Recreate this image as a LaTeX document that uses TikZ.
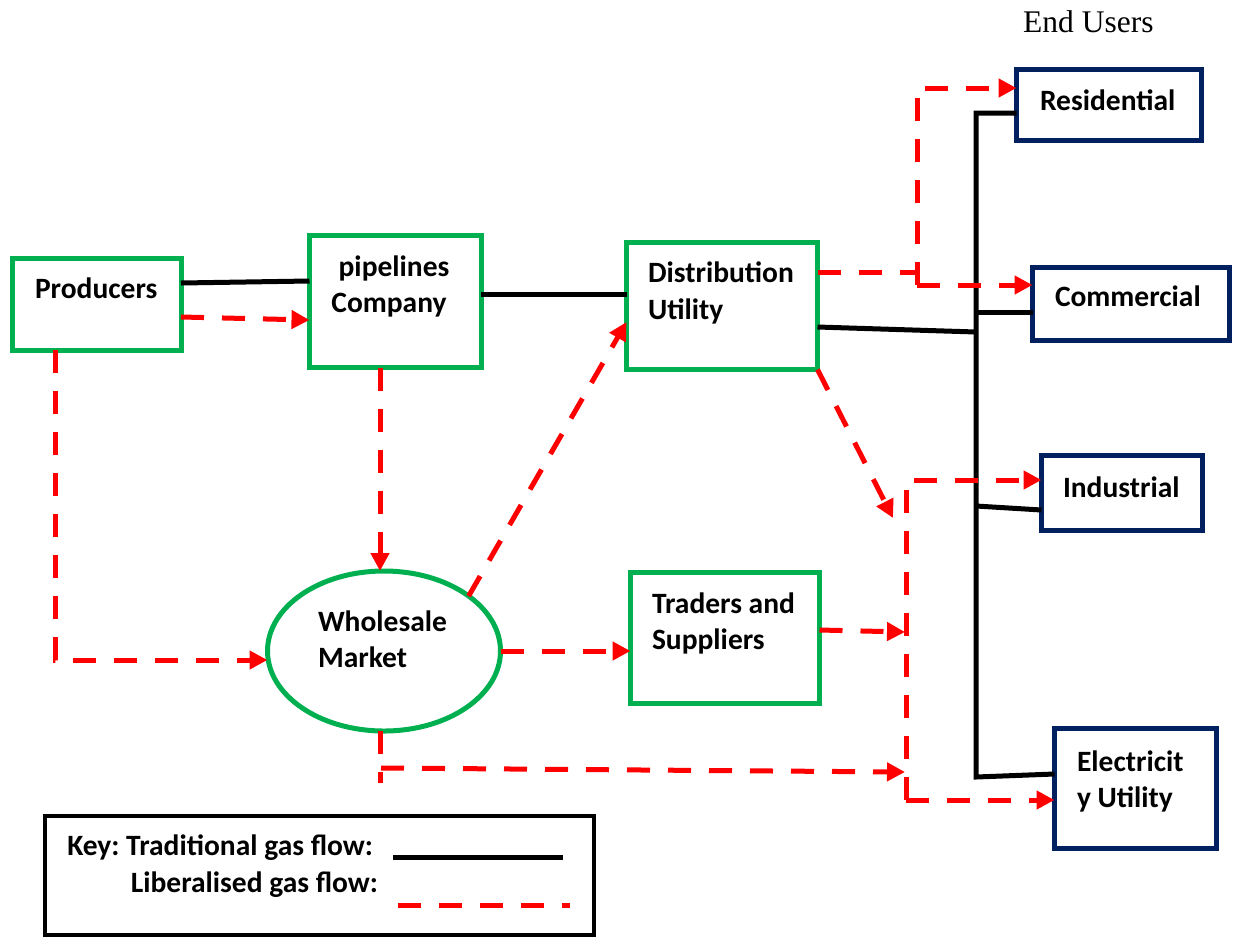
\documentclass[tikz,border=0pt]{standalone}
\usepackage{fontspec}
\setmainfont{Carlito}
\newfontfamily\timesfont{Liberation Serif}
\usetikzlibrary{arrows.meta,shapes.geometric}
\definecolor{boxgreen}{HTML}{00B050}
\definecolor{usernavy}{HTML}{002060}
\definecolor{flowred}{HTML}{FF0000}
\frenchspacing
\begin{document}
\begin{tikzpicture}[x=1pt,y=-1pt,
  gbox/.style={draw=boxgreen,line width=5pt,rectangle,inner sep=0pt,outer sep=0pt},
  ubox/.style={draw=usernavy,line width=5pt,rectangle,inner sep=0pt,outer sep=0pt},
  lbl/.style={font=\fontsize{29.5}{36}\selectfont\bfseries,inner sep=0pt,outer sep=0pt},
  trad/.style={draw=black,line width=5pt},
  lib/.style={draw=flowred,line width=5pt,dash pattern=on 23pt off 18pt},
  libarrow/.style={lib,-{Triangle[length=18pt,width=18pt]}},
]
\useasboundingbox (0,0) rectangle (1233,938);

% ---- supply side (green) ----
\node[gbox,minimum width=168.5pt,minimum height=92pt] (prod) at (96.75,304) {};
\node[gbox,minimum width=171.5pt,minimum height=132pt] (pipe) at (395.25,301.5) {};
\node[gbox,minimum width=191pt,minimum height=127pt] (dist) at (722,306) {};
\node[gbox,minimum width=189pt,minimum height=131pt] (trad) at (725,638) {};
\node[gbox,ellipse,minimum width=233pt,minimum height=160pt] (ell) at (384,651) {};

% ---- end users (navy) ----
\node[ubox,minimum width=185pt,minimum height=71pt] (res) at (1109,105) {};
\node[ubox,minimum width=197pt,minimum height=73pt] (com) at (1131,304) {};
\node[ubox,minimum width=161pt,minimum height=75pt] (ind) at (1122,493) {};
\node[ubox,minimum width=162pt,minimum height=120pt] (elec) at (1135.5,788) {};

% ---- labels ----
\node[lbl,anchor=base west] (prodT) at (35,298) {Producers};
\node[lbl,anchor=base] (pipeT1) at (394,276) {pipelines};
\node[lbl,anchor=base] (pipeT2) at (389,312) {Company};
\node[lbl,anchor=base west] (distT1) at (648,282) {Distribution};
\node[lbl,anchor=base west] (distT2) at (648,319) {Utility};
\node[lbl,anchor=base west] (ellT1) at (318,631) {Wholesale};
\node[lbl,anchor=base west] (ellT2) at (318,667) {Market};
\node[lbl,anchor=base west] (tradT1) at (652,613) {Traders and};
\node[lbl,anchor=base west] (tradT2) at (652,649) {Suppliers};
\node[lbl,anchor=base west] (resT) at (1040,110) {Residential};
\node[lbl,anchor=base west] (comT) at (1055,306) {Commercial};
\node[lbl,anchor=base west] (indT) at (1063,497) {Industrial};
\node[lbl,anchor=base west] (elecT1) at (1077,771) {Electricit};
\node[lbl,anchor=base west] (elecT2) at (1077,807) {y Utility};
\node[font=\timesfont\fontsize{31.5}{36}\selectfont,inner sep=0pt,anchor=base west] (users) at (1023,32) {End Users};

% ---- traditional gas flow (black) ----
\coordinate (trunkTop) at (976,113);
\coordinate (trunkBot) at (976,777);
\coordinate (trunkDist) at (976,332);
\coordinate (trunkCom) at (976,312);
\coordinate (trunkInd) at (976,506);
\draw[trad] ([yshift=21pt]prod.east) -- ([yshift=20.5pt]pipe.west);
\draw[trad] ([yshift=7.5pt]pipe.east) -- ([yshift=12pt]dist.west);
\draw[trad] ([yshift=-21pt]dist.east) -- (trunkDist);
\draw[trad,line join=miter] ([yshift=-8pt]res.west) -- (trunkTop) -- (trunkBot) -- ([yshift=14pt]elec.west);
\draw[trad] (trunkCom) -- ([yshift=-8pt]com.west);
\draw[trad] (trunkInd) -- ([yshift=-17pt]ind.west);

% ---- liberalised gas flow (red dashed) ----
\draw[libarrow] ([yshift=-13pt]prod.east) -- ([yshift=-18.5pt]pipe.west);
\draw[libarrow] ([xshift=-41.75pt]prod.south) |- ([yshift=-9pt]ell.west);
\draw[libarrow] ([xshift=-15.25pt]pipe.south) -- ([xshift=-15.25pt]pipe.south |- ell.north);
\draw[libarrow] (ell.33) -- ([yshift=-16pt]dist.west);
\draw[libarrow] (ell.east) -- ([yshift=-13pt]trad.west);

% wholesale market to the lower bus
\coordinate (wmJoin) at (381,768);
\coordinate (busW) at (905,772);
\draw[lib] ([xshift=-3.5pt]ell.south) -- ([xshift=-3.5pt]ell.south |- 0,783);
\draw[libarrow] (wmJoin) -- (busW);

% traders and distribution into the lower bus
\coordinate (busT) at (905,632);
\coordinate (busD) at (893,518);
\draw[libarrow] ([yshift=8pt]trad.east) -- (busT);
\draw[libarrow] (dist.south east) -- (busD);

% lower bus feeding industrial and electricity
\coordinate (busLtop) at (906,480);
\coordinate (busLbot) at (906,800);
\draw[libarrow,line join=miter] (busLbot) -- (busLtop) -- ([yshift=13pt]ind.west);
\draw[libarrow,line join=miter] (busLbot) -- ([yshift=-12pt]elec.west);

% upper bus feeding residential and commercial
\coordinate (busRtop) at (917,88);
\coordinate (busRbot) at (917,285);
\coordinate (busRdist) at (917,272);
\draw[lib] ([yshift=34pt]dist.east) -- (busRdist);
\draw[libarrow,line join=miter] (busRbot) -- (busRtop) -- ([yshift=17pt]res.west);
\draw[libarrow] (busRbot) -- ([yshift=19pt]com.west);

% ---- key ----
\node[draw=black,line width=4pt,minimum width=549.5pt,minimum height=119.5pt,inner sep=0pt] (key) at (319.25,875.25) {};
\node[lbl,anchor=base east] (keyT1) at (373,855) {Key: Traditional gas flow:};
\node[lbl,anchor=base east] (keyT2) at (378,892) {Liberalised gas flow:};
\coordinate (keyTa) at (393,857);
\coordinate (keyTb) at (563,857);
\coordinate (keyLa) at (398,905);
\coordinate (keyLb) at (570,905);
\draw[trad] (keyTa) -- (keyTb);
\draw[lib] (keyLa) -- (keyLb);
\end{tikzpicture}
\end{document}
